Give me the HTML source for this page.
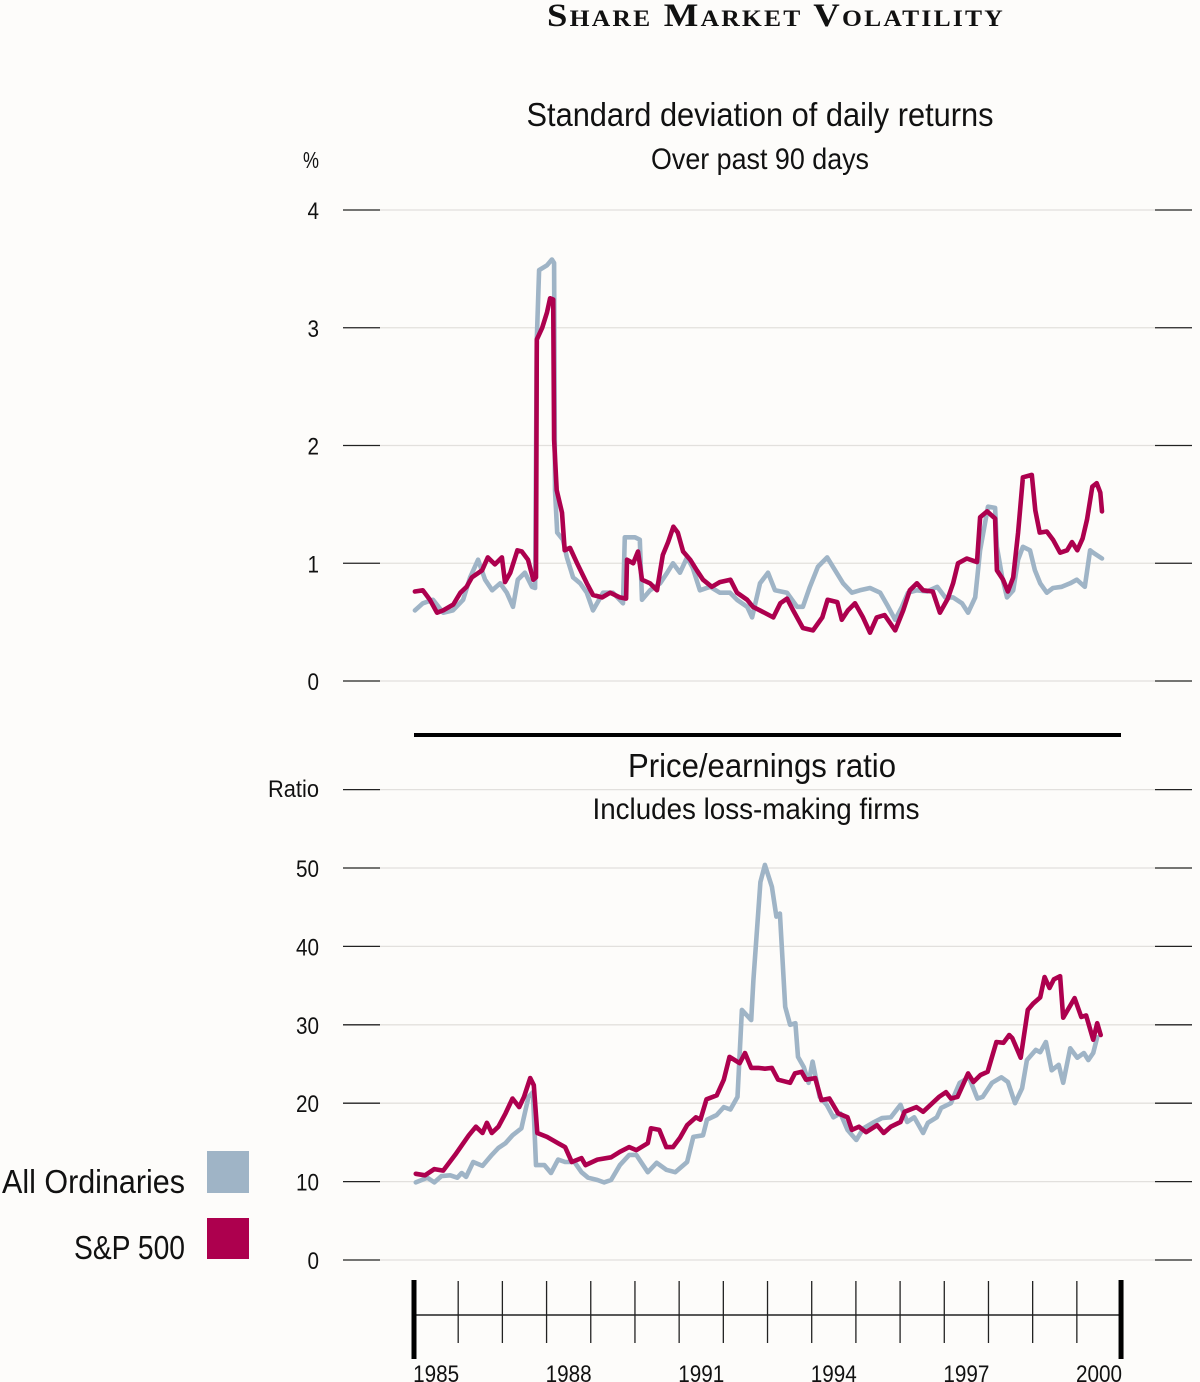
<!DOCTYPE html>
<html><head><meta charset="utf-8"><title>Share Market Volatility</title>
<style>
html,body{margin:0;padding:0;background:#fdfcfa;}
svg{display:block;}
.t{font-family:"Liberation Sans Narrow","Liberation Sans",sans-serif;fill:#111;}
</style></head>
<body>
<svg id="chart" width="1200" height="1382" viewBox="0 0 1200 1382" xmlns="http://www.w3.org/2000/svg">
<rect x="0" y="0" width="1200" height="1382" fill="#fdfcfa"/>
<text x="776" y="26" text-anchor="middle" font-family="'Liberation Serif',serif" font-weight="bold" font-size="33" letter-spacing="2" style="font-variant:small-caps" textLength="458" lengthAdjust="spacingAndGlyphs" fill="#111">Share Market Volatility</text>
<text class="t" x="760" y="126" text-anchor="middle" font-size="33" textLength="467" lengthAdjust="spacingAndGlyphs">Standard deviation of daily returns</text>
<text class="t" x="760" y="169" text-anchor="middle" font-size="30" textLength="218" lengthAdjust="spacingAndGlyphs">Over past 90 days</text>
<text class="t" x="319" y="168" text-anchor="end" font-size="23" textLength="16" lengthAdjust="spacingAndGlyphs">%</text>
<text class="t" x="762" y="777" text-anchor="middle" font-size="33" textLength="268" lengthAdjust="spacingAndGlyphs">Price/earnings ratio</text>
<text class="t" x="756" y="819" text-anchor="middle" font-size="30" textLength="327" lengthAdjust="spacingAndGlyphs">Includes loss-making firms</text>
<text class="t" x="319" y="797" text-anchor="end" font-size="24" textLength="51" lengthAdjust="spacingAndGlyphs">Ratio</text>
<line x1="414" y1="735" x2="1121" y2="735" stroke="#000" stroke-width="4"/>
<g id="topGrid"></g>
<g id="botGrid"></g>
<g id="topSeries"></g>
<g id="botSeries"></g>
<g id="xAxis"></g>
<g>
<text class="t" x="185" y="1193" text-anchor="end" font-size="33" textLength="183" lengthAdjust="spacingAndGlyphs">All Ordinaries</text>
<rect x="207" y="1151" width="42" height="42" fill="#9fb4c6"/>
<text class="t" x="185" y="1259" text-anchor="end" font-size="33" textLength="111" lengthAdjust="spacingAndGlyphs">S&amp;P 500</text>
<rect x="207" y="1218" width="42" height="41" fill="#ad004e"/>
</g>
</svg>
<script>
// ---- data ----
var topTicks = [0, 1, 2, 3, 4];
var botTicks = [0, 10, 20, 30, 40, 50];
var yearLabels = [1985, 1988, 1991, 1994, 1997, 2000];

var volAllOrdDates = [1985.02,1985.20,1985.43,1985.66,1985.88,1986.11,1986.27,1986.45,1986.61,1986.77,1986.95,1987.10,1987.24,1987.35,1987.51,1987.67,1987.74,1987.78,1987.83,1988.01,1988.12,1988.17,1988.19,1988.24,1988.37,1988.46,1988.60,1988.76,1988.91,1989.05,1989.28,1989.50,1989.73,1989.77,1990.00,1990.11,1990.16,1990.34,1990.57,1990.73,1990.86,1991.02,1991.18,1991.31,1991.47,1991.70,1991.92,1992.15,1992.31,1992.54,1992.65,1992.83,1993.01,1993.17,1993.44,1993.67,1993.80,1993.96,1994.14,1994.35,1994.53,1994.71,1994.91,1995.09,1995.32,1995.55,1995.73,1995.89,1996.04,1996.18,1996.38,1996.61,1996.84,1997.02,1997.20,1997.40,1997.54,1997.70,1997.81,1997.99,1998.15,1998.19,1998.31,1998.42,1998.56,1998.67,1998.78,1998.94,1999.05,1999.17,1999.32,1999.46,1999.66,1999.85,2000.00,2000.18,2000.30,2000.37,2000.57];
var volAllOrd = [0.60,0.66,0.69,0.58,0.60,0.69,0.88,1.03,0.86,0.77,0.83,0.75,0.63,0.86,0.92,0.80,0.79,2.90,3.49,3.53,3.58,3.55,1.62,1.26,1.20,1.05,0.88,0.83,0.75,0.60,0.75,0.75,0.66,1.22,1.22,1.20,0.69,0.77,0.83,0.92,1.00,0.92,1.05,0.96,0.77,0.80,0.75,0.75,0.69,0.63,0.54,0.83,0.92,0.77,0.75,0.63,0.63,0.80,0.97,1.05,0.94,0.83,0.75,0.77,0.79,0.75,0.63,0.52,0.63,0.75,0.77,0.76,0.80,0.71,0.71,0.66,0.58,0.71,1.11,1.48,1.47,1.14,0.88,0.71,0.77,1.03,1.14,1.11,0.94,0.83,0.75,0.79,0.80,0.83,0.86,0.80,1.11,1.09,1.04];

var volSPDates = [1985.02,1985.20,1985.36,1985.52,1985.66,1985.89,1986.05,1986.19,1986.31,1986.54,1986.67,1986.83,1986.99,1987.06,1987.18,1987.34,1987.44,1987.58,1987.70,1987.76,1987.78,1987.90,1988.01,1988.08,1988.15,1988.17,1988.23,1988.35,1988.41,1988.53,1988.69,1988.91,1989.05,1989.26,1989.44,1989.66,1989.80,1989.82,1989.96,1990.07,1990.16,1990.34,1990.50,1990.63,1990.75,1990.87,1990.97,1991.09,1991.25,1991.40,1991.54,1991.74,1991.92,1992.16,1992.31,1992.54,1992.67,1992.83,1993.13,1993.29,1993.44,1993.58,1993.80,1994.03,1994.24,1994.36,1994.58,1994.68,1994.82,1994.98,1995.16,1995.32,1995.47,1995.65,1995.89,1996.07,1996.22,1996.38,1996.52,1996.74,1996.90,1997.08,1997.20,1997.31,1997.51,1997.74,1997.81,1997.97,1998.15,1998.19,1998.33,1998.44,1998.56,1998.67,1998.78,1998.98,1999.06,1999.16,1999.32,1999.46,1999.62,1999.78,1999.89,2000.01,2000.13,2000.23,2000.35,2000.45,2000.53,2000.57];
var volSP = [0.76,0.77,0.69,0.58,0.60,0.65,0.75,0.80,0.88,0.94,1.05,0.99,1.05,0.84,0.92,1.11,1.10,1.03,0.86,0.88,2.90,3.00,3.13,3.25,3.24,2.05,1.62,1.43,1.11,1.13,1.00,0.83,0.73,0.71,0.75,0.71,0.70,1.03,1.00,1.10,0.86,0.83,0.77,1.07,1.18,1.31,1.26,1.10,1.03,0.94,0.86,0.80,0.84,0.86,0.75,0.69,0.63,0.60,0.54,0.66,0.70,0.60,0.45,0.43,0.54,0.69,0.67,0.52,0.60,0.66,0.54,0.41,0.54,0.56,0.43,0.60,0.77,0.83,0.77,0.76,0.58,0.70,0.83,1.00,1.04,1.01,1.39,1.44,1.38,0.94,0.86,0.76,0.88,1.26,1.73,1.75,1.45,1.26,1.27,1.20,1.09,1.11,1.18,1.11,1.21,1.37,1.65,1.68,1.60,1.44];

var peAllOrdDates = [1985.04,1985.30,1985.46,1985.62,1985.82,1985.98,1986.08,1986.18,1986.34,1986.55,1986.76,1986.91,1987.07,1987.23,1987.43,1987.59,1987.69,1987.76,1987.95,1988.10,1988.26,1988.42,1988.63,1988.79,1988.94,1989.15,1989.30,1989.46,1989.66,1989.87,1990.03,1990.29,1990.49,1990.71,1990.91,1991.18,1991.32,1991.54,1991.63,1991.85,1992.01,1992.16,1992.32,1992.42,1992.63,1992.68,1992.84,1992.94,1993.10,1993.20,1993.28,1993.40,1993.51,1993.63,1993.69,1993.82,1993.93,1994.02,1994.18,1994.34,1994.49,1994.65,1994.81,1995.01,1995.17,1995.38,1995.59,1995.79,1996.01,1996.16,1996.32,1996.52,1996.63,1996.83,1996.93,1997.15,1997.35,1997.56,1997.75,1997.87,1998.08,1998.29,1998.44,1998.60,1998.76,1998.87,1999.07,1999.17,1999.30,1999.43,1999.59,1999.69,1999.85,2000.01,2000.16,2000.26,2000.37,2000.46];
var peAllOrd = [9.9,10.5,9.9,10.7,10.8,10.5,11.1,10.6,12.5,12.0,13.4,14.3,14.9,15.9,16.8,20.8,21.4,12.1,12.1,11.1,12.8,12.5,12.5,11.2,10.5,10.2,9.9,10.2,12.1,13.4,13.4,11.2,12.4,11.5,11.2,12.5,15.7,15.9,17.9,18.5,19.5,19.2,20.8,31.9,30.6,35.7,48.2,50.4,47.6,43.8,44.2,32.3,30.0,30.2,25.9,24.6,22.6,25.3,20.8,19.8,18.2,18.7,16.6,15.3,16.8,17.5,18.1,18.2,19.8,17.6,18.2,16.2,17.5,18.2,19.4,20.0,22.6,23.3,20.6,20.8,22.6,23.3,22.7,20.0,21.9,25.5,26.8,26.5,27.8,24.2,24.9,22.6,27.0,25.8,26.4,25.5,26.4,28.4];

var peSPDates = [1985.04,1985.25,1985.46,1985.66,1985.93,1986.24,1986.40,1986.55,1986.65,1986.76,1986.91,1987.07,1987.23,1987.38,1987.49,1987.63,1987.71,1987.79,1988.01,1988.26,1988.42,1988.57,1988.79,1988.88,1989.15,1989.46,1989.66,1989.87,1990.03,1990.29,1990.36,1990.55,1990.71,1990.86,1991.02,1991.18,1991.38,1991.48,1991.62,1991.85,1992.01,1992.14,1992.26,1992.37,1992.49,1992.63,1992.79,1992.94,1993.10,1993.24,1993.51,1993.62,1993.77,1993.87,1994.08,1994.22,1994.40,1994.60,1994.81,1994.91,1995.07,1995.23,1995.48,1995.63,1995.79,1996.01,1996.10,1996.37,1996.52,1996.73,1996.88,1997.04,1997.15,1997.30,1997.54,1997.66,1997.82,1997.98,1998.18,1998.34,1998.47,1998.54,1998.73,1998.89,1999.01,1999.17,1999.27,1999.38,1999.48,1999.62,1999.69,1999.95,2000.10,2000.21,2000.37,2000.46,2000.54];
var peSP = [11.0,10.8,11.6,11.4,13.4,15.9,17.0,16.2,17.5,16.2,17.0,18.7,20.6,19.5,20.8,23.2,22.3,16.2,15.7,14.9,14.4,12.5,13.0,12.1,12.8,13.1,13.8,14.4,14.0,14.9,16.8,16.6,14.4,14.4,15.6,17.2,18.2,17.9,20.5,21.0,23.0,25.9,25.5,25.1,26.4,24.5,24.5,24.4,24.5,23.0,22.6,23.8,24.0,23.0,23.2,20.4,20.6,18.7,18.2,16.6,17.0,16.3,17.2,16.2,17.0,17.6,18.9,19.5,18.9,20.0,20.8,21.4,20.6,20.8,23.8,22.7,23.6,24.0,27.8,27.7,28.7,28.3,25.8,31.9,32.7,33.5,36.1,34.7,35.8,36.2,30.9,33.4,31.0,31.2,28.1,30.2,28.7];

// ---- scales ----
var NS = "http://www.w3.org/2000/svg";
var X0 = 414, YEAR_W = 44.19;
function xS(yr){ return X0 + (yr - 1985) * YEAR_W; }
function yTop(v){ return 681 - v * 117.75; }
function yBot(v){ return 1260 - v * 7.84; }

function mk(tag, attrs, parent){
  var e = document.createElementNS(NS, tag);
  for (var k in attrs) e.setAttribute(k, attrs[k]);
  parent.appendChild(e);
  return e;
}

function grid(g, ticks, yf, prefix, extra){
  var all = ticks.slice();
  if (extra !== undefined) all.push(extra);
  all.forEach(function(v, i){
    var y = yf(v);
    var gl = mk('line', {x1:380, x2:1155, y1:y, y2:y, stroke:'#e2e0dd', 'stroke-width':1.3}, g);
    
    
    var l = mk('line', {x1:343, x2:380, y1:y, y2:y, stroke:'#222', 'stroke-width':1.3}, g);
    
    
    var r = mk('line', {x1:1155, x2:1192, y1:y, y2:y, stroke:'#222', 'stroke-width':1.3}, g);
    
    
    if (i < ticks.length) {
      var s = String(v);
      var t = mk('text', {x:319, y:y + 9, 'text-anchor':'end', 'font-size':24, 'class':'t', textLength: s.length * 11.5, lengthAdjust:'spacingAndGlyphs'}, g);
      t.textContent = s;
      
      
    }
  });
}
grid(document.getElementById('topGrid'), topTicks, yTop, 'top-y-axis');
grid(document.getElementById('botGrid'), botTicks, yBot, 'bottom-y-axis', 60);

function series(g, dates, vals, yf, color, name){
  var pts = dates.map(function(d, i){ return xS(d).toFixed(1) + ',' + yf(vals[i]).toFixed(1); }).join(' ');
  var p = mk('polyline', {points:pts, fill:'none', stroke:color, 'stroke-width':4.6, 'stroke-linejoin':'round', 'stroke-linecap':'round'}, g);
  
  
}
var tg = document.getElementById('topSeries');
series(tg, volAllOrdDates, volAllOrd, yTop, '#9fb4c6', 'volatility-all-ordinaries-line');
series(tg, volSPDates, volSP, yTop, '#ad004e', 'volatility-sp500-line');
var bg = document.getElementById('botSeries');
series(bg, peAllOrdDates, peAllOrd, yBot, '#9fb4c6', 'pe-all-ordinaries-line');
series(bg, peSPDates, peSP, yBot, '#ad004e', 'pe-sp500-line');

// x axis
var xa = document.getElementById('xAxis');
var base = mk('line', {x1:414, x2:1121, y1:1315, y2:1315, stroke:'#222', 'stroke-width':1.5}, xa);


for (var yr = 1986; yr <= 2000; yr++) {
  var tk = mk('line', {x1:xS(yr), x2:xS(yr), y1:1281, y2:1343, stroke:'#222', 'stroke-width':1.3}, xa);
  
  
}
[1985, 2001].forEach(function(yr){
  var e = mk('line', {x1:xS(yr), x2:xS(yr), y1:1280, y2:1359, stroke:'#000', 'stroke-width':5}, xa);
  
  
});
yearLabels.forEach(function(yr){
  var t = mk('text', {x:xS(yr + 0.5), y:1382, 'text-anchor':'middle', 'font-size':24, 'class':'t', textLength:46, lengthAdjust:'spacingAndGlyphs'}, xa);
  t.textContent = String(yr);
  
  
});
</script>
</body></html>
